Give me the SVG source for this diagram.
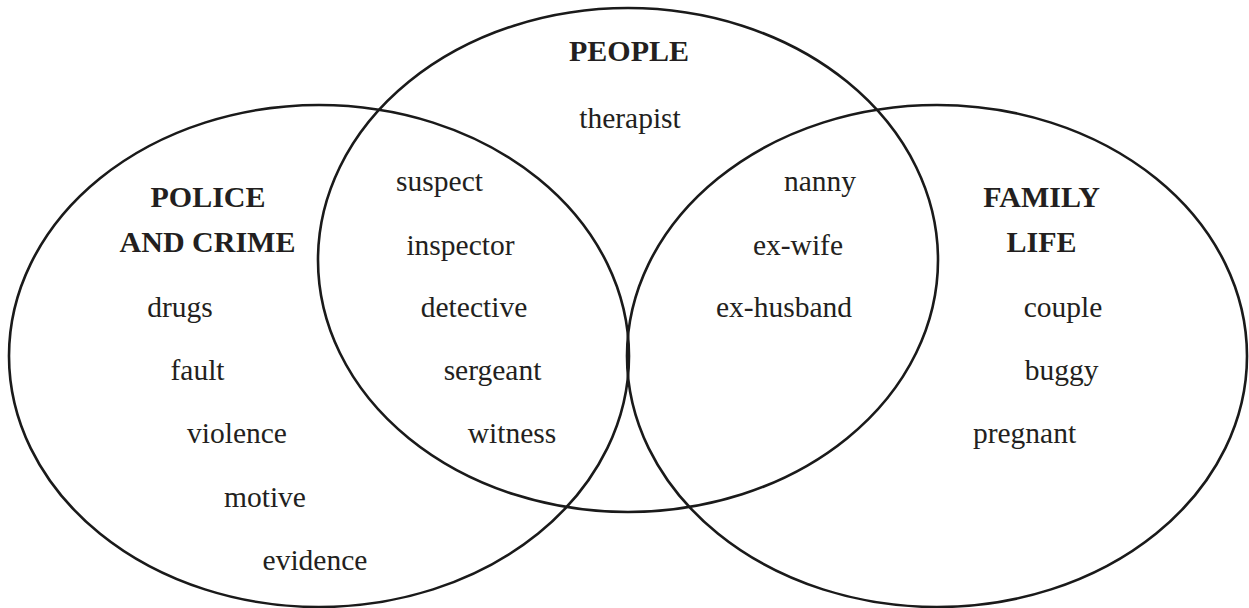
<svg xmlns="http://www.w3.org/2000/svg" width="1249" height="608" viewBox="0 0 1249 608">
<style>
.set{fill:none;stroke:#1a1a1a;stroke-width:2.6}
.t{font-family:"Liberation Serif","Times New Roman",serif;font-size:29.5px;fill:#231f20;text-anchor:middle}
.h{font-family:"Liberation Serif","Times New Roman",serif;font-size:30px;font-weight:bold;fill:#231f20;text-anchor:middle}
</style>
<rect width="1249" height="608" fill="#ffffff"/>
<g id="set-police">
<ellipse class="set" cx="319" cy="356" rx="310" ry="251"/>
<text class="h" x="208" y="207">POLICE</text>
<text class="h" x="207.5" y="252">AND CRIME</text>
</g>
<g id="set-people">
<ellipse class="set" cx="628" cy="260" rx="310" ry="252"/>
<text class="h" x="629" y="61">PEOPLE</text>
</g>
<g id="set-family">
<ellipse class="set" cx="937" cy="356" rx="310" ry="251"/>
<text class="h" x="1041.5" y="207">FAMILY</text>
<text class="h" x="1041.5" y="252">LIFE</text>
</g>
<g id="words-people">
<text class="t" x="630" y="128">therapist</text>
</g>
<g id="words-police-people">
<text class="t" x="439.5" y="191">suspect</text>
<text class="t" x="460.5" y="255">inspector</text>
<text class="t" x="474" y="317">detective</text>
<text class="t" x="492.5" y="380">sergeant</text>
<text class="t" x="512" y="443">witness</text>
</g>
<g id="words-police">
<text class="t" x="180" y="317">drugs</text>
<text class="t" x="197.5" y="380">fault</text>
<text class="t" x="237" y="443">violence</text>
<text class="t" x="265" y="507">motive</text>
<text class="t" x="315" y="570">evidence</text>
</g>
<g id="words-people-family">
<text class="t" x="820" y="191">nanny</text>
<text class="t" x="798" y="255">ex-wife</text>
<text class="t" x="784" y="317">ex-husband</text>
</g>
<g id="words-family">
<text class="t" x="1063" y="317">couple</text>
<text class="t" x="1061.5" y="380">buggy</text>
<text class="t" x="1024.5" y="443">pregnant</text>
</g>
<g id="connectors"/>
</svg>
